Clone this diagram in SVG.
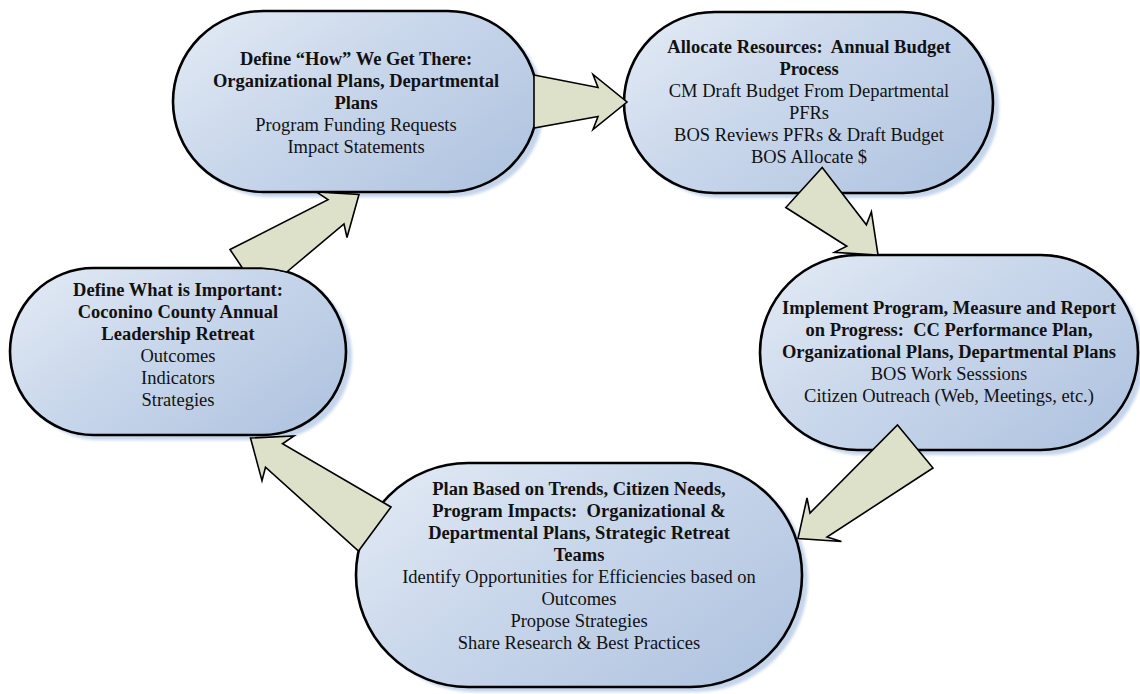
<svg xmlns="http://www.w3.org/2000/svg" width="1140" height="694" viewBox="0 0 1140 694">
<defs>
<linearGradient id="nodeFill" x1="0" y1="0" x2="1" y2="0.7">
<stop offset="0" stop-color="#e4ebf5"/>
<stop offset="0.5" stop-color="#c9d7eb"/>
<stop offset="1" stop-color="#b3c6e1"/>
</linearGradient>
<filter id="soft" x="-10%" y="-10%" width="120%" height="120%">
<feGaussianBlur stdDeviation="1.5"/>
</filter>
<style>
.shadow{fill:#c4d4ea;filter:url(#soft)}
.node{fill:url(#nodeFill);stroke:#000;stroke-width:2.6}
.arrow{fill:#dde1c9;stroke:#000;stroke-width:1.6;stroke-linejoin:miter}
text{font-family:"Liberation Serif","Times New Roman",serif;font-size:18.5px;fill:#111;text-anchor:middle}
.b{font-weight:bold}
</style>
</defs>
<rect width="1140" height="694" fill="#fff"/>

<g id="node-how">
<rect class="shadow" x="179" y="16" width="365" height="181" rx="90.5"/>
<rect class="node" x="173" y="11" width="365" height="181" rx="90.5"/>
<text class="b" x="356" y="65">Define “How” We Get There:</text>
<text class="b" x="356" y="87">Organizational Plans, Departmental</text>
<text class="b" x="356" y="109">Plans</text>
<text x="356" y="131">Program Funding Requests</text>
<text x="356" y="153">Impact Statements</text>
</g>

<g id="node-allocate">
<rect class="shadow" x="630" y="17" width="369" height="181" rx="90.5"/>
<rect class="node" x="624" y="12" width="369" height="181" rx="90.5"/>
<text class="b" x="809" y="53">Allocate Resources:&#160; Annual Budget</text>
<text class="b" x="809" y="75">Process</text>
<text x="809" y="97">CM Draft Budget From Departmental</text>
<text x="809" y="119">PFRs</text>
<text x="809" y="141">BOS Reviews PFRs &amp; Draft Budget</text>
<text x="809" y="163">BOS Allocate $</text>
</g>

<g id="node-important">
<rect class="shadow" x="16" y="273" width="336" height="167" rx="83.5"/>
<rect class="node" x="10" y="268" width="336" height="167" rx="83.5"/>
<text class="b" x="178" y="296">Define What is Important:</text>
<text class="b" x="178" y="318">Coconino County Annual</text>
<text class="b" x="178" y="340">Leadership Retreat</text>
<text x="178" y="362">Outcomes</text>
<text x="178" y="384">Indicators</text>
<text x="178" y="406">Strategies</text>
</g>

<g id="node-implement">
<rect class="shadow" x="766" y="260" width="378" height="195" rx="97.5"/>
<rect class="node" x="760" y="255" width="378" height="195" rx="97.5"/>
<text class="b" x="949" y="313.5">Implement Program, Measure and Report</text>
<text class="b" x="949" y="335.5">on Progress:&#160; CC Performance Plan,</text>
<text class="b" x="949" y="357.5">Organizational Plans, Departmental Plans</text>
<text x="949" y="379.5">BOS Work Sesssions</text>
<text x="949" y="401.5">Citizen Outreach (Web, Meetings, etc.)</text>
</g>

<g id="node-plan">
<rect class="shadow" x="362" y="468" width="446" height="224" rx="112"/>
<rect class="node" x="356" y="463" width="446" height="224" rx="112"/>
<text class="b" x="579" y="495">Plan Based on Trends, Citizen Needs,</text>
<text class="b" x="579" y="517">Program Impacts:&#160; Organizational &amp;</text>
<text class="b" x="579" y="539">Departmental Plans, Strategic Retreat</text>
<text class="b" x="579" y="561">Teams</text>
<text x="579" y="583">Identify Opportunities for Efficiencies based on</text>
<text x="579" y="605">Outcomes</text>
<text x="579" y="627">Propose Strategies</text>
<text x="579" y="649">Share Research &amp; Best Practices</text>
</g>

<g id="connectors">
<polygon class="arrow" points="534,75 598,87.5 593,74.5 627,102 593,129.5 598,116.5 534,128"/>
<polygon class="arrow" points="822.2,167.5 866.4,224.8 871.4,211.8 878,255 834.4,252.4 846.8,246.2 785.8,207.5"/>
<polygon class="arrow" points="897.5,425 933,468 827,537 841.5,541.5 798,538.5 807,498 810,513"/>
<polygon class="arrow" points="391,507 282.5,443.8 294,436 250.5,438 262,480.7 265.5,467.2 358.5,551"/>
<polygon class="arrow" points="230,249.5 328,199.7 316.5,192 359,194.5 347,237.5 344,224 286.7,272 275,269.5 261,268 242.4,268"/>
</g>
</svg>
